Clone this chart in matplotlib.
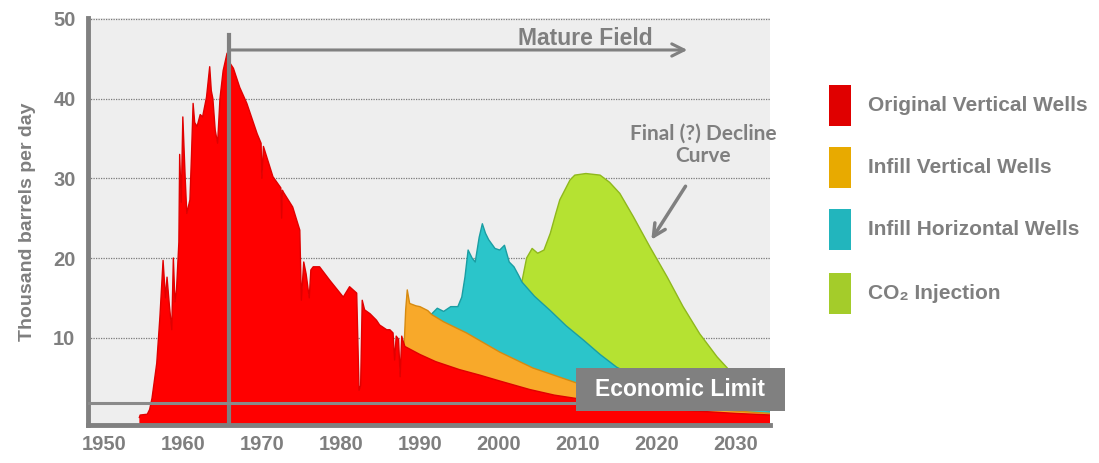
import matplotlib.pyplot as plt
from matplotlib.patches import Rectangle

plt.rcParams['font.family'] = ['Liberation Sans', 'DejaVu Sans']
plt.rcParams['font.weight'] = 'bold'

# production curves (thousand barrels per day), stacked tops
red_years = [1954.5, 1954.6, 1955.5, 1955.8, 1956.1, 1956.7, 1957.1, 1957.5, 1957.8,
             1958.0, 1958.3, 1958.6, 1958.8, 1959.0, 1959.2, 1959.5, 1959.6, 1959.8, 1960.0,
             1960.3, 1960.5, 1960.9, 1961.1, 1961.3, 1961.5, 1961.8, 1962.2, 1962.5, 1963.0,
             1963.4, 1963.6, 1963.8, 1964.1, 1964.4, 1964.7, 1965.1, 1965.6, 1966.0, 1966.4,
             1967.2, 1968.1, 1969.4, 1969.9, 1970.0, 1970.2, 1971.4, 1972.4, 1972.5, 1972.6,
             1972.7, 1973.9, 1974.8, 1975.0, 1975.3, 1975.6, 1976.0, 1976.2, 1976.5, 1977.3,
             1978.6, 1980.3, 1981.1, 1982.0, 1982.3, 1982.5, 1982.7, 1983.0, 1983.7, 1984.5,
             1984.9, 1985.8, 1986.2, 1986.6, 1986.8, 1987.0, 1987.3, 1987.5, 1987.7, 1987.9,
             1988.1, 1990, 1992, 1995, 1997.6, 2000, 2003.9, 2007, 2010.3, 2015, 2020, 2025,
             2030, 2034.5]
red_vals = [0, 0.3, 0.4, 1.0, 2.4, 6.8, 12.6, 19.7, 15.0,
            17.6, 14.0, 11.0, 20.0, 14.5, 16.0, 22.0, 33.0, 27.0, 37.7,
            30.0, 25.6, 27.3, 33.0, 39.4, 37.0, 36.5, 38.0, 37.7, 40.2,
            44.0, 41.0, 40.0, 36.0, 34.4, 40.0, 43.5, 45.7, 44.4, 43.8,
            41.4, 39.4, 35.6, 34.4, 30.0, 34.0, 30.2, 28.8, 25.0, 28.5,
            28.3, 26.4, 23.5, 14.7, 19.5, 18.0, 15.0, 18.5, 18.9, 18.9,
            17.2, 15.1, 16.4, 15.6, 3.4, 4.0, 14.7, 13.5, 13.0, 12.2,
            11.6, 11.0, 11.0, 10.6, 7.2, 10.2, 9.8, 5.1, 10.2, 9.5,
            8.9, 7.9, 7.0, 6.0, 5.3, 4.6, 3.5, 2.8, 2.3, 1.6, 1.1, 0.8,
            0.5, 0.3]

orange_years = [1988.0, 1988.2, 1988.4, 1988.7, 1989.5, 1990.0, 1991.0, 1991.5, 1993, 1995.9,
                2000.1, 2004.3, 2009.9, 2014, 2018.7, 2025, 2030, 2034.5]
orange_vals = [8.9, 13.5, 16.0, 14.3, 14.0, 13.9, 13.4, 12.9, 12.0, 10.6,
               8.2, 6.2, 4.3, 3.0, 2.0, 1.2, 0.8, 0.5]

cyan_years = [1991.4, 1992.2, 1993.0, 1993.9, 1994.8, 1995.3, 1995.7, 1996.1, 1996.6, 1997.0,
              1997.5, 1997.9, 1998.3, 1998.7, 1999.5, 2000.1, 2000.7, 2001.3, 2001.9, 2002.5,
              2002.9, 2004.5, 2006.5, 2008.5, 2010.7, 2012.8, 2014.9, 2020, 2025, 2030, 2034.5]
cyan_vals = [12.9, 13.7, 13.3, 13.9, 13.9, 15.1, 17.6, 21.0, 20.0, 19.5,
             22.6, 24.3, 23.1, 22.3, 21.2, 21.0, 21.6, 19.5, 18.9, 17.8,
             17.0, 15.2, 13.4, 11.5, 9.7, 7.9, 6.3, 3.8, 2.3, 1.3, 0.8]

green_years = [2002.9, 2003.5, 2004.2, 2004.9, 2005.7, 2006.5, 2007.2, 2007.7, 2009.0, 2009.6,
               2011.0, 2012.8, 2014.0, 2015.3, 2017.0, 2019.1, 2021.3, 2023.3, 2025.4, 2027.6,
               2028.9, 2030.5, 2032.0, 2034.5]
green_vals = [17.0, 20.0, 21.2, 20.6, 21.0, 23.1, 25.6, 27.3, 29.8, 30.4,
              30.6, 30.4, 29.5, 28.1, 25.2, 21.4, 17.6, 13.9, 10.5, 7.6,
              6.2, 4.0, 2.6, 1.0]

legend_labels = ['Original Vertical Wells', 'Infill Vertical Wells',
                 'Infill Horizontal Wells', 'CO\u2082 Injection']
fill_colors = ['#ff0000', '#f8a92a', '#2bc5ca', '#b5e232']
edge_colors = ['#e00000', '#d68a10', '#1a9ea3', '#8fb81c']
legend_colors = ['#e00000', '#e8aa00', '#22b5bd', '#a4cc2a']

yticks = [10, 20, 30, 40, 50]
xticks = [1950, 1960, 1970, 1980, 1990, 2000, 2010, 2020, 2030]

gray = '#7f7f7f'
W, H = 1099, 463
base = -1

fig = plt.figure(figsize=(W / 100, H / 100), dpi=100)
ax = fig.add_axes([88 / W, (H - 425.4) / H, (770 - 88) / W, (425.4 - 18.1) / H])
ax.set_facecolor('#eeeeee')

# back to front, each layer filled from the bottom
layers = [(green_years, green_vals, 3), (cyan_years, cyan_vals, 2),
          (orange_years, orange_vals, 1), (red_years, red_vals, 0)]
for yrs, vals, i in layers:
    z = 2 + (3 - i) * 0.1
    ax.fill_between(yrs, base, vals, facecolor=fill_colors[i], edgecolor='none', zorder=z)
    ax.plot(yrs, vals, color=edge_colors[i], lw=1, zorder=z)

ax.set_xlim(1948, 2034.3)
ax.set_ylim(base, 50.1)
ax.set_xticks(xticks)
ax.set_yticks(yticks)
ax.yaxis.grid(True, linestyle=(0, (1, 1)), color='#7a7a7a', lw=0.9)
ax.set_axisbelow(True)
ax.tick_params(length=0, labelsize=14.5, labelcolor=gray)
ax.tick_params(axis='x', pad=7)
ax.tick_params(axis='y', pad=9)
for s in ['top', 'right']:
    ax.spines[s].set_visible(False)
for s in ['left', 'bottom']:
    ax.spines[s].set_color('#808080')
    ax.spines[s].set_linewidth(3.5)
ax.set_ylabel('Thousand barrels per day', fontsize=14, color=gray, fontweight='bold', labelpad=12)

# mature field marker
ax.plot([1965.8, 1965.8], [base, 48], color='#808080', lw=3, zorder=4)
ax.annotate('', xy=(2024.2, 46.1), xytext=(1965.8, 46.1),
            arrowprops=dict(arrowstyle='->', color='#808080', lw=2.2, mutation_scale=22), zorder=4)
ax.text(2010.9, 47.6, 'Mature Field', fontsize=16.5, color=gray, ha='center', va='center')

# final decline note
ax.text(2025.8, 34.2, 'Final (?) Decline\nCurve', fontsize=15, color=gray, ha='center', va='center',
        family=['Lato', 'DejaVu Sans'], linespacing=1.1)
ax.annotate('', xy=(2019.1, 22.0), xytext=(2023.8, 29.3),
            arrowprops=dict(arrowstyle='->', color='#808080', lw=2.5, mutation_scale=22), zorder=4)

# economic limit
ax.plot([1948, 2009.7], [1.8, 1.8], color='#8a8a8a', lw=2.2, zorder=4)
ax.add_patch(Rectangle((2009.7, 0.8), 26.5, 5.4, facecolor='#808080', edgecolor='none',
                       clip_on=False, zorder=5))
ax.text(2022.9, 3.45, 'Economic Limit', fontsize=16.5, color='white', ha='center', va='center', zorder=6)

# legend
rect_tops = [85, 147, 209, 273]
for i, lab in enumerate(legend_labels):
    top = rect_tops[i]
    fig.patches.append(Rectangle((829 / W, (H - top - 41) / H), 22 / W, 41 / H,
                                 transform=fig.transFigure, facecolor=legend_colors[i],
                                 edgecolor='none'))
    fig.text(868 / W, (H - top - 20.5) / H, lab, fontsize=15, color=gray, va='center', ha='left')

fig.savefig('out.png', dpi=100)
